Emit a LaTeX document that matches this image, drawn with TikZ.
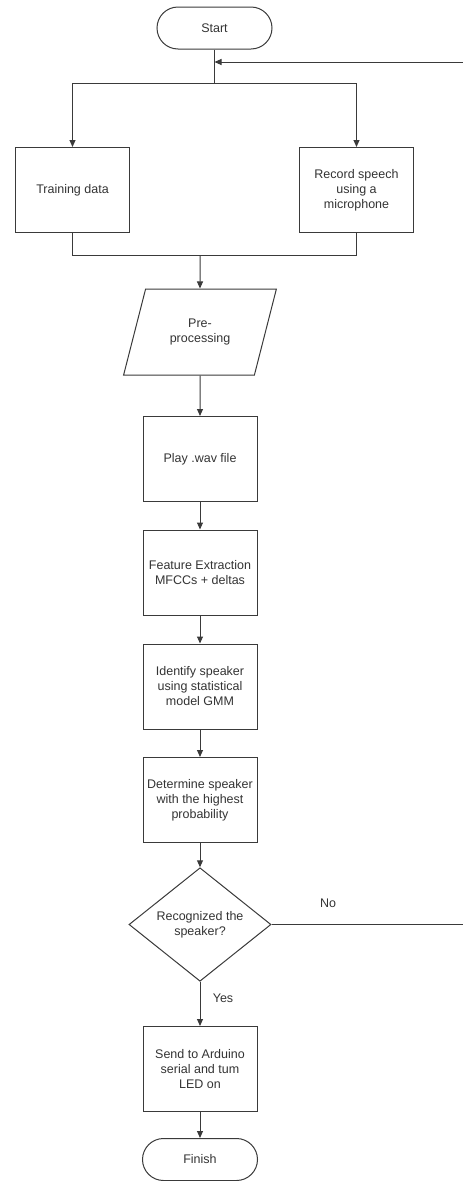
\documentclass[tikz,border=0pt]{standalone}
\usepackage{fontspec}
\setmainfont{Liberation Sans}
\usetikzlibrary{arrows.meta,shapes.geometric,shapes.misc}
\definecolor{ln}{HTML}{3A3A3A}
\definecolor{tx}{HTML}{333333}
\begin{document}
\begin{tikzpicture}[x=1pt,y=-1pt,
  every node/.style={text=tx,font=\fontsize{12.5}{15}\selectfont},
  base/.style={draw=ln,line width=1pt,align=center,inner sep=0pt},
  term/.style={base,rounded rectangle,minimum width=115pt,minimum height=42pt},
  procbox/.style={base,rectangle,minimum width=114pt,minimum height=85pt},
  iobox/.style={base,trapezium,trapezium left angle=65,trapezium right angle=115,trapezium stretches=true,minimum width=154pt,minimum height=86pt},
  decbox/.style={base,diamond,minimum width=142pt,minimum height=105pt},
  line/.style={draw=ln,line width=1pt},
  arr/.style={line,-{Triangle[length=7pt,width=6pt]}},
  lbl/.style={inner sep=0pt}
]
\useasboundingbox (0,0) rectangle (463,1181);

\node[term] (start) at (214.5,28) {Start};
\node[procbox] (train) at (72.5,190) {Training data};
\node[procbox] (rec) at (356.5,190) {Record speech\\using a\\microphone};
\node[iobox] (pre) at (200,332) {Pre-\\processing};
\node[procbox] (play) at (200,459) {Play .wav file};
\node[procbox] (feat) at (200,572.5) {Feature Extraction\\MFCCs + deltas};
\node[procbox] (ident) at (200,686.5) {Identify speaker\\using statistical\\model GMM};
\node[procbox] (det) at (200,800) {Determine speaker\\with the highest\\probability};
\node[decbox] (dec) at (200,924.5) {Recognized the\\speaker?};
\node[procbox] (send) at (200,1069) {Send to Arduino\\serial and tum\\LED on};
\node[term] (fin) at (200,1159.5) {Finish};

\node[lbl] (no) at (328,903) {No};
\node[lbl] (yes) at (223,998) {Yes};

\coordinate (merge) at (214.5,62);
\coordinate (fork) at (214.5,83);
\coordinate (join) at (200,255);
\coordinate (loopin) at (463,62);
\coordinate (loopout) at (463,924.5);

\draw[line] (start.south) -- (fork);
\draw[arr] (loopin) -- (merge);
\draw[arr] (fork) -| (train.north);
\draw[arr] (fork) -| (rec.north);
\draw[line] (train.south) |- (join);
\draw[line] (rec.south) |- (join);
\draw[arr] (join) -- (pre.north);
\draw[arr] (pre.south) -- (play.north);
\draw[arr] (play.south) -- (feat.north);
\draw[arr] (feat.south) -- (ident.north);
\draw[arr] (ident.south) -- (det.north);
\draw[arr] (det.south) -- (dec.north);
\draw[arr] (dec.south) -- (send.north);
\draw[line] (dec.east) -- (loopout);
\draw[arr] (send.south) -- (fin.north);
\end{tikzpicture}
\end{document}
